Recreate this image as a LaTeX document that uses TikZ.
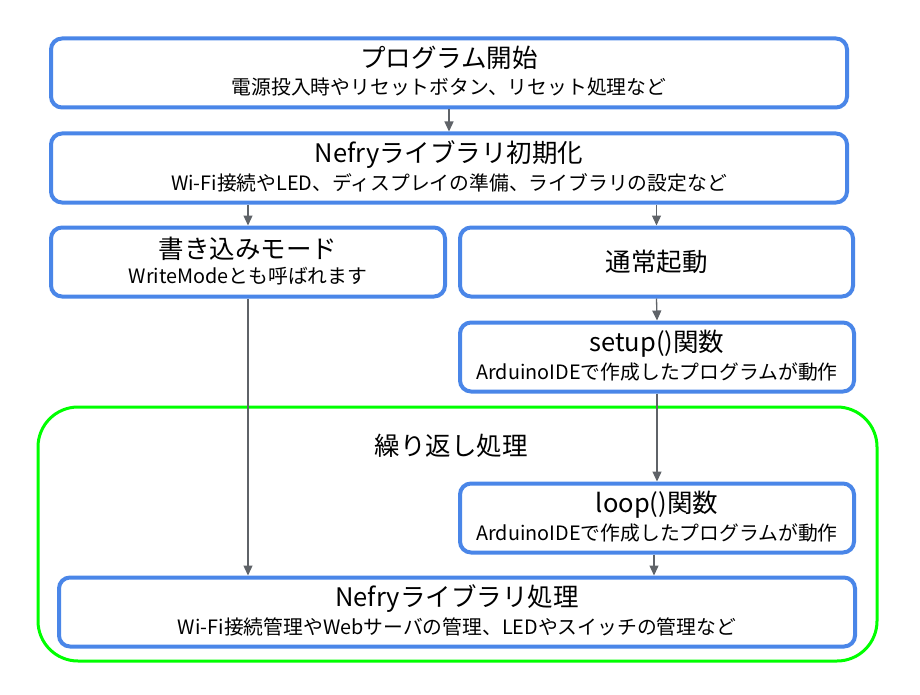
\documentclass[tikz,border=0pt]{standalone}
\usepackage{fontspec}
\setmainfont{Noto Sans CJK JP}
\usetikzlibrary{arrows.meta}
\definecolor{boxblue}{HTML}{4A86E8}
\definecolor{arrgray}{HTML}{5F6368}
\definecolor{loopgreen}{HTML}{00FF00}
\begin{document}
\begin{tikzpicture}[x=1pt,y=-1pt,
  box/.style={draw=boxblue,line width=4pt,rounded corners=11pt,minimum height=69pt,inner sep=0pt},
  ttl/.style={font=\fontsize{25.5}{28}\selectfont,inner sep=0pt,anchor=center},
  sub/.style={font=\fontsize{19.8}{22}\selectfont,inner sep=0pt,anchor=center},
  arr/.style={draw=arrgray,line width=1.3pt,-{Triangle[length=10pt,width=9pt]}}]
\useasboundingbox (0,0) rectangle (920,695);
% loop area
\draw[loopgreen,line width=3pt,rounded corners=40pt] (38,407) rectangle (877,661);
\node[ttl] (looplbl) at (451,446) {繰り返し処理};
% boxes
\node[box,minimum width=796pt] (b1) at (449,73) {};
\node[ttl] (b1t) at ([yshift=15pt]b1.center) {プログラム開始};
\node[sub] (b1s) at ([yshift=-14pt]b1.center) {電源投入時やリセットボタン、リセット処理など};
\node[box,minimum width=796pt] (b2) at (449,168) {};
\node[ttl] (b2t) at ([yshift=13pt]b2.center) {Nefryライブラリ初期化};
\node[sub] (b2s) at ([yshift=-15pt]b2.center) {Wi-Fi接続やLED、ディスプレイの準備、ライブラリの設定など};
\node[box,minimum width=394pt] (b3) at (248,262) {};
\node[ttl] (b3t) at ([yshift=13pt]b3.center) {書き込みモード};
\node[sub] (b3s) at ([yshift=-14pt]b3.center) {WriteModeとも呼ばれます};
\node[box,minimum width=393pt] (b4) at (656.5,262) {};
\node[ttl] (b4t) at (b4.center) {通常起動};
\node[box,minimum width=394pt] (b5) at (657,357) {};
\node[ttl] (b5t) at ([yshift=13pt]b5.center) {setup()関数};
\node[sub] (b5s) at ([yshift=-15pt]b5.center) {ArduinoIDEで作成したプログラムが動作};
\node[box,minimum width=394pt] (b6) at (657,518) {};
\node[ttl] (b6t) at ([yshift=13pt]b6.center) {loop()関数};
\node[sub] (b6s) at ([yshift=-15pt]b6.center) {ArduinoIDEで作成したプログラムが動作};
\node[box,minimum width=796pt] (b7) at (457,612) {};
\node[ttl] (b7t) at ([yshift=13pt]b7.center) {Nefryライブラリ処理};
\node[sub] (b7s) at ([yshift=-15pt]b7.center) {Wi-Fi接続管理やWebサーバの管理、LEDやスイッチの管理など};
% arrows
\draw[arr] (b1.south) -- (b2.north);
\draw[arr] (b2.south -| b3.north) -- (b3.north);
\draw[arr] (b2.south -| b4.north) -- (b4.north);
\draw[arr] (b4.south) -- (b5.north);
\draw[arr] (b5.south) -- (b6.north);
\draw[arr] (b6.south -| 654,0) -- (b7.north -| 654,0);
\draw[arr] (b3.south) -- (b7.north -| b3.south);
\end{tikzpicture}
\end{document}
